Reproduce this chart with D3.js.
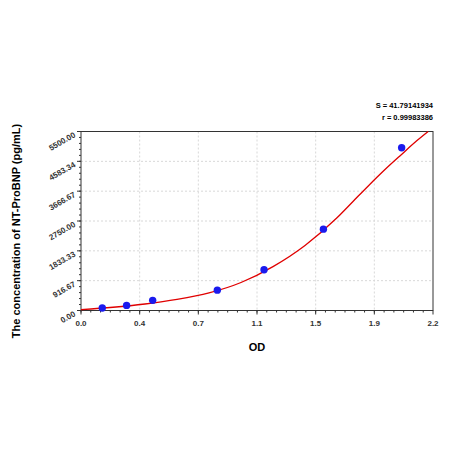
<!DOCTYPE html><html><head><script src="https://cdn.jsdelivr.net/npm/d3@7"></script>
<style>body{margin:0;background:#fff}text{font-family:"Liberation Sans",Arial,sans-serif}</style></head><body><svg id="c" width="450" height="450"></svg><script>
const pointX=[0.133,0.285,0.448,0.852,1.144,1.515,2.004];
const pointY=[78,156,312,625,1250,2500,5000];
const curveX=[0,0.2,0.4,0.6,0.8,1.0,1.2,1.4,1.6,1.7,1.8,1.9,2.0,2.1,2.17];
const curveY=[30,100,200,340,540,860,1350,2000,2850,3350,3850,4330,4780,5220,5500];
const xTicks=[0,0.3667,0.7333,1.1,1.4667,1.8333,2.2];
const xTickLabels=["0.0","0.4","0.7","1.1","1.5","1.9","2.2"];
const yTicks=[0,916.67,1833.33,2750,3666.67,4583.34,5500];
const yTickLabels=["0.00","916.67","1833.33","2750.00","3666.67","4583.34","5500.00"];
const svg=d3.select("#c");
const L=81,R=433,T=131.5,B=310.5;
const x=d3.scaleLinear().domain([0,2.2]).range([L,R]);
const y=d3.scaleLinear().domain([0,5500]).range([B,T]);
const g=svg.append("g");
xTicks.slice(1,-1).forEach(v=>g.append("line").attr("x1",x(v)).attr("x2",x(v)).attr("y1",T).attr("y2",B).attr("stroke","#d8d8d8").attr("stroke-dasharray","2,2"));
yTicks.slice(1,-1).forEach(v=>g.append("line").attr("x1",L).attr("x2",R).attr("y1",y(v)).attr("y2",y(v)).attr("stroke","#d8d8d8").attr("stroke-dasharray","2,2"));
svg.append("rect").attr("x",L).attr("y",T).attr("width",R-L).attr("height",B-T).attr("fill","none").attr("stroke","#333");
const minorX=d3.range(0,36).map(i=>i*2.2/36);
minorX.forEach(v=>svg.append("line").attr("x1",x(v)).attr("x2",x(v)).attr("y1",B).attr("y2",B+2).attr("stroke","#333"));
const minorY=d3.range(0,30).map(i=>i*5500/30);
minorY.forEach(v=>svg.append("line").attr("x1",L-2).attr("x2",L).attr("y1",y(v)).attr("y2",y(v)).attr("stroke","#333"));
xTicks.forEach((v,i)=>{svg.append("line").attr("x1",x(v)).attr("x2",x(v)).attr("y1",B).attr("y2",B+4).attr("stroke","#333");
svg.append("text").attr("x",x(v)).attr("y",B+15).attr("text-anchor","middle").attr("font-size",8).attr("font-weight","bold").attr("fill","#333").text(xTickLabels[i]);});
yTicks.forEach((v,i)=>{svg.append("line").attr("x1",L-4).attr("x2",L).attr("y1",y(v)).attr("y2",y(v)).attr("stroke","#333");
svg.append("text").attr("transform",`translate(${L-5},${y(v)+5}) rotate(-30)`).attr("text-anchor","end").attr("font-size",8).attr("font-weight","bold").attr("fill","#333").text(yTickLabels[i]);});
const line=d3.line().x((d,i)=>x(curveX[i])).y(d=>y(d)).curve(d3.curveMonotoneX);
svg.append("path").attr("d",line(curveY)).attr("fill","none").attr("stroke","#e00000").attr("stroke-width",1.3);
pointX.forEach((v,i)=>svg.append("circle").attr("cx",x(v)).attr("cy",y(pointY[i])).attr("r",3.7).attr("fill","#1a1aee"));
svg.append("text").attr("x",(L+R)/2).attr("y",351).attr("text-anchor","middle").attr("font-size",11).attr("font-weight","bold").text("OD");
svg.append("text").attr("transform",`translate(20,${(T+B)/2+10}) rotate(-90)`).attr("text-anchor","middle").attr("font-size",11).attr("font-weight","bold").text("The concentration of NT-ProBNP (pg/mL)");
svg.append("text").attr("x",433).attr("y",108).attr("text-anchor","end").attr("font-size",7.5).attr("font-weight","bold").text("S = 41.79141934");
svg.append("text").attr("x",433).attr("y",120).attr("text-anchor","end").attr("font-size",7.5).attr("font-weight","bold").text("r = 0.99983386");
</script></body></html>
